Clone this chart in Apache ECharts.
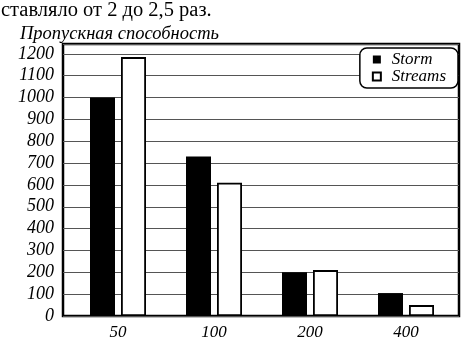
<!DOCTYPE html>
<html><head><meta charset="utf-8">
<script src="https://cdn.jsdelivr.net/npm/echarts@6/dist/echarts.min.js"></script>
<style>html,body{margin:0;padding:0;background:#fff}#c{width:462px;height:337px}</style>
</head><body><div id="c"></div>
<script>
const categories = ['50', '100', '200', '400'];
const storm = [1000, 730, 200, 105];
const streams = [1185, 610, 210, 50];
const yTicks = [0, 1200, 100]; // min, last labelled tick, step
const introText = 'ставляло от 2 до 2,5 раз.';
const axisTitle = 'Пропускная способность';

const serif = '"Liberation Serif","DejaVu Serif",serif';
const chart = echarts.init(document.getElementById('c'), null, {renderer: 'canvas'});
const yMax = 1245;
chart.setOption({
  animation: false,
  backgroundColor: '#fff',
  title: [
    {text: introText, left: -4, top: -5, textStyle: {fontFamily: serif, fontSize: 20.5, fontWeight: 'normal', color: '#000'}},
    {text: axisTitle, left: 15, top: 20, textStyle: {fontFamily: serif, fontSize: 18.5, fontStyle: 'italic', fontWeight: 'normal', color: '#000'}}
  ],
  legend: {
    right: 4, top: 48, orient: 'vertical',
    data: ['Storm', 'Streams'],
    icon: 'rect',
    itemWidth: 8, itemHeight: 8, itemGap: 0,
    padding: [3, 12, 3, 12],
    borderColor: '#000', borderWidth: 1.5, borderRadius: 7, backgroundColor: '#fff',
    textStyle: {fontFamily: serif, fontSize: 17, fontStyle: 'italic', color: '#000', lineHeight: 15, padding: [0, 0, 0, 6]}
  },
  grid: [
    {left: 70, width: 384, top: 44, bottom: 21, show: false, outerBoundsMode: 'none', containLabel: false},
    {left: 63, right: 3, top: 44, bottom: 21, show: true, borderColor: '#000', borderWidth: 2.5, backgroundColor: 'transparent', outerBoundsMode: 'none', containLabel: false}
  ],
  xAxis: [
    {type: 'category', gridIndex: 0, data: categories, axisLine: {show: false}, axisTick: {show: false},
     axisLabel: {fontFamily: serif, fontSize: 17, fontStyle: 'italic', color: '#000', margin: 8}},
    {type: 'value', gridIndex: 1, min: 0, max: 1, show: false}
  ],
  yAxis: [
    {type: 'value', gridIndex: 0, min: yTicks[0], max: yMax, show: false},
    {type: 'value', gridIndex: 1, min: yTicks[0], max: yMax, interval: yTicks[2],
     axisLine: {show: false}, axisTick: {show: false},
     splitLine: {lineStyle: {color: '#555', width: 1.2}},
     axisLabel: {showMaxLabel: false, fontFamily: serif, fontSize: 18, fontStyle: 'italic', color: '#000', margin: 9,
       formatter: v => (v <= yTicks[1] ? String(v) : '')}}
  ],
  series: [
    {name: 'Storm', type: 'bar', xAxisIndex: 0, yAxisIndex: 0, data: storm, barWidth: 25, barGap: '24%',
     itemStyle: {color: '#000'}},
    {name: 'Streams', type: 'bar', xAxisIndex: 0, yAxisIndex: 0, data: streams, barWidth: 25,
     itemStyle: {color: '#fff', borderColor: '#000', borderWidth: 1.8}}
  ]
});
</script></body></html>
